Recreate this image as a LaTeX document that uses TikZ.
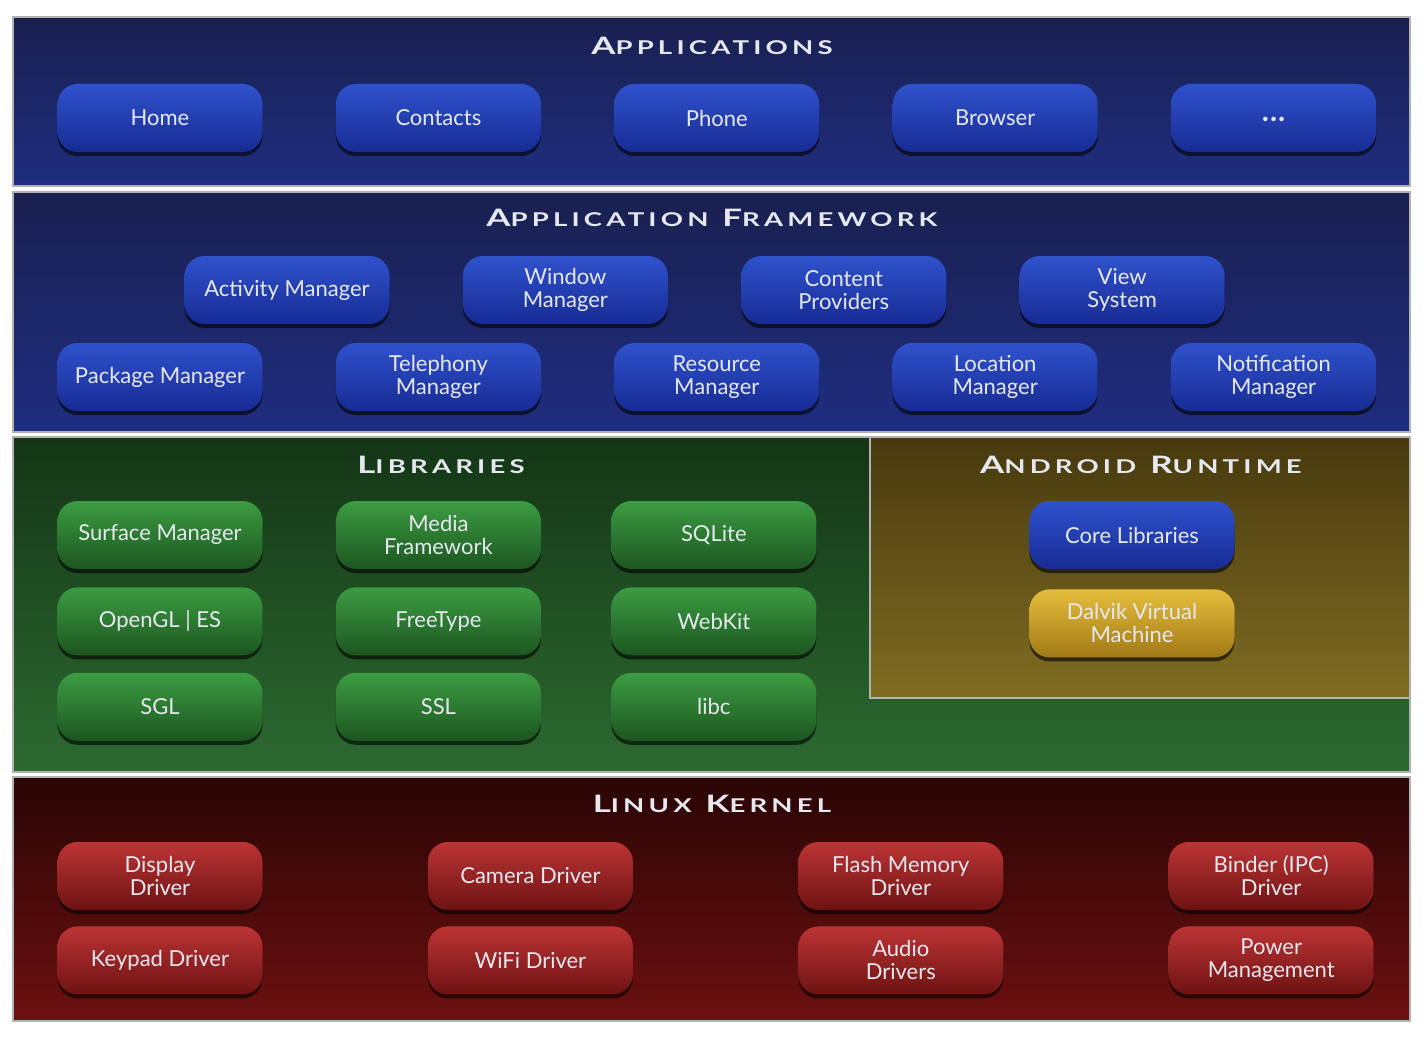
\documentclass[tikz,border=0pt]{standalone}
\usepackage{fontspec}
\setmainfont{Lato}
\usetikzlibrary{positioning,shadows}

\definecolor{appbgtop}{HTML}{19204F}
\definecolor{appbgbot}{HTML}{1F2D80}
\definecolor{libbgtop}{HTML}{143516}
\definecolor{libbgbot}{HTML}{2C6A30}
\definecolor{rtbgtop}{HTML}{47390E}
\definecolor{rtbgbot}{HTML}{7F6D22}
\definecolor{kernbgtop}{HTML}{2A0505}
\definecolor{kernbgbot}{HTML}{6C1010}
\definecolor{bluetop}{HTML}{2F52CC}
\definecolor{bluebot}{HTML}{172B94}
\definecolor{greentop}{HTML}{3C9C42}
\definecolor{greenbot}{HTML}{1C5620}
\definecolor{redtop}{HTML}{BC3434}
\definecolor{redbot}{HTML}{6E1212}
\definecolor{goldtop}{HTML}{E6BE3C}
\definecolor{goldbot}{HTML}{A27A16}
\definecolor{labeltext}{HTML}{E6E8F0}

\newcommand{\capword}[2]{{\fontsize{24}{24}\selectfont #1}{\fontsize{19}{19}\selectfont #2}}

\begin{document}
\begin{tikzpicture}[
x=1pt, y=-1pt,
node distance=73pt,
layer/.style={draw=gray!60, line width=2.5pt},
btn/.style={rounded corners=20pt, minimum width=205pt, minimum height=68pt, align=center,
  text=labeltext, font=\fontsize{22}{23}\selectfont, inner sep=2pt,
  drop shadow={shadow xshift=0pt, shadow yshift=-4pt, opacity=0.6, fill=black}},
bluebtn/.style={btn, top color=bluetop, bottom color=bluebot},
greenbtn/.style={btn, top color=greentop, bottom color=greenbot},
redbtn/.style={btn, top color=redtop, bottom color=redbot},
goldbtn/.style={btn, top color=goldtop, bottom color=goldbot},
layertitle/.style={text=labeltext, font=\bfseries\addfontfeature{FakeStretch=1.45, LetterSpace=22}}
]
\fill[white] (0,0) rectangle (1426,1038);
\useasboundingbox (0,0) rectangle (1426,1038);

% layers
\draw[layer, top color=appbgtop, bottom color=appbgbot] (13,17) rectangle (1410,186);
\draw[layer, top color=appbgtop, bottom color=appbgbot] (13,192) rectangle (1410,432);
\draw[layer, top color=libbgtop, bottom color=libbgbot] (13,437) rectangle (1410,772);
\draw[layer, top color=rtbgtop, bottom color=rtbgbot] (870,437) rectangle (1410,698);
\draw[layer, top color=kernbgtop, bottom color=kernbgbot] (13,777) rectangle (1410,1021);

% applications
\node[layertitle] (apptitle) at (712,46) {\capword{A}{PPLICATIONS}};
\node[bluebtn] (home) at (160,118) {Home};
\node[bluebtn, right=of home] (contacts) {Contacts};
\node[bluebtn, right=of contacts] (phone) {Phone};
\node[bluebtn, right=of phone] (browser) {Browser};
\node[bluebtn, right=of browser] (moreapps) {\raisebox{-8pt}{\fontsize{30}{30}\selectfont\bfseries .\hspace{1pt}.\hspace{1pt}.}};

% application framework
\node[layertitle] (fwtitle) at (712,218) {\capword{A}{PPLICATION}\hspace{14pt}\capword{F}{RAMEWORK}};
\node[bluebtn] (actmgr) at (287,290) {Activity Manager};
\node[bluebtn, right=of actmgr] (winmgr) {Window\\Manager};
\node[bluebtn, right=of winmgr] (content) {Content\\Providers};
\node[bluebtn, right=of content] (viewsys) {View\\System};
\node[bluebtn] (pkgmgr) at (160,377) {Package Manager};
\node[bluebtn, right=of pkgmgr] (telmgr) {Telephony\\Manager};
\node[bluebtn, right=of telmgr] (resmgr) {Resource\\Manager};
\node[bluebtn, right=of resmgr] (locmgr) {Location\\Manager};
\node[bluebtn, right=of locmgr] (notifmgr) {Notification\\Manager};

% libraries
\node[layertitle] (libtitle) at (441,465) {\capword{L}{IBRARIES}};
\node[greenbtn] (surface) at (160,535) {Surface Manager};
\node[greenbtn, right=of surface] (media) {Media\\Framework};
\node[greenbtn, right=70pt of media] (sqlite) {SQLite};
\node[greenbtn, below=18pt of surface] (opengl) {OpenGL | ES};
\node[greenbtn, below=18pt of media] (freetype) {FreeType};
\node[greenbtn, below=18pt of sqlite] (webkit) {WebKit};
\node[greenbtn, below=17pt of opengl] (sgl) {SGL};
\node[greenbtn, below=17pt of freetype] (ssl) {SSL};
\node[greenbtn, below=17pt of webkit] (libc) {libc};

% android runtime
\node[layertitle] (rttitle) at (1141,465) {\capword{A}{NDROID}\hspace{14pt}\capword{R}{UNTIME}};
\node[bluebtn] (corelib) at (1132,535) {Core Libraries};
\node[goldbtn, below=20pt of corelib] (dalvik) {Dalvik Virtual\\Machine};

% linux kernel
\node[layertitle] (kerntitle) at (712,804) {\capword{L}{INUX}\hspace{14pt}\capword{K}{ERNEL}};
\node[redbtn] (display) at (160,876) {Display\\Driver};
\node[redbtn, right=165pt of display] (camera) {Camera Driver};
\node[redbtn, right=165pt of camera] (flash) {Flash Memory\\Driver};
\node[redbtn, right=165pt of flash] (binder) {Binder (IPC)\\Driver};
\node[redbtn, below=16pt of display] (keypad) {Keypad Driver};
\node[redbtn, below=16pt of camera] (wifi) {WiFi Driver};
\node[redbtn, below=16pt of flash] (audio) {Audio\\Drivers};
\node[redbtn, below=16pt of binder] (power) {Power\\Management};
\end{tikzpicture}
\end{document}
